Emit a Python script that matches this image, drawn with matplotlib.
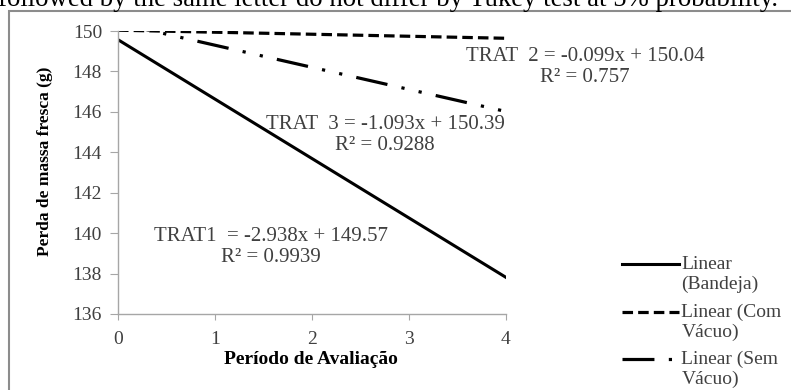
import numpy as np
import matplotlib.pyplot as plt
from matplotlib.patches import Rectangle

# trend line ends (period 0 and 4)
periodo = [0, 4]
bandeja = [149.57, 137.82]
com_vacuo = [150.04, 149.64]
sem_vacuo = [150.39, 146.02]

eq1 = 'TRAT1  = -2.938x + 149.57\nR² = 0.9939'
eq2 = 'TRAT  2 = -0.099x + 150.04\nR² = 0.757'
eq3 = 'TRAT  3 = -1.093x + 150.39\nR² = 0.9288'

plt.rcParams['font.family'] = ['Liberation Serif', 'DejaVu Serif']

fig = plt.figure(figsize=(7.91, 3.90), dpi=100)
W, H = 791.0, 390.0
ax = fig.add_axes([118 / W, 1 - 314 / H, (505.7 - 118) / W, (314 - 31) / H])

# outer chart frame (runs off the right and bottom edges)
fig.patches.append(Rectangle((9 / W, -0.1), 1.2, 1.1 - 11 / H,
                             transform=fig.transFigure, fill=False,
                             edgecolor='#8c8c8c', linewidth=1.5))

fig.text(778 / W, 1 - 6 / H,
         'followed by the same letter do not differ by Tukey test at 5% probability.',
         ha='right', va='baseline', fontsize=19.3, color='black')

ax.plot(periodo, bandeja, color='black', lw=2.2, label='Linear\n(Bandeja)')
ax.plot(periodo, com_vacuo, color='black', lw=2.3, linestyle=(0, (3.3, 1.6)),
        label='Linear (Com\nVácuo)')
ax.plot(periodo, sem_vacuo, color='black', lw=2.3,
        linestyle=(0, (10, 4.5, 1.0, 4.5, 1.0, 4.5)), label='Linear (Sem\nVácuo)')

ax.set_xlim(0, 4)
ax.set_ylim(136, 150)
ax.set_xticks([0, 1, 2, 3, 4])
ax.set_yticks(np.arange(136, 151, 2))

for s in ['top', 'right']:
    ax.spines[s].set_visible(False)
for s in ['left', 'bottom']:
    ax.spines[s].set_color('#a6a6a6')
    ax.spines[s].set_linewidth(1.0)
ax.tick_params(colors='#a6a6a6', labelcolor='#404040', labelsize=14,
               direction='out')
ax.tick_params(axis='y', length=5.5, pad=6)
ax.tick_params(axis='x', length=4, pad=8)

fig.text(311 / W, 1 - 360 / H, 'Período de Avaliação', fontsize=14,
         fontweight='bold', ha='center', va='center')
fig.text(45 / W, 1 - 161 / H, 'Perda de massa fresca (g)', fontsize=12.5,
         fontweight='bold', ha='center', va='center', rotation=90)

ax.text(1.578, 139.31, eq1, ha='center', va='center', fontsize=15, color='#404040',
        linespacing=1.12)
ax.text(4.82, 148.22, eq2, ha='center', va='center', fontsize=15, color='#404040',
        linespacing=1.12, clip_on=False)
ax.text(2.755, 144.855, eq3, ha='center', va='center', fontsize=15, color='#404040',
        linespacing=1.12)

leg = ax.legend(loc='upper left', bbox_to_anchor=(622 / W, 1 - 256 / H),
                bbox_transform=fig.transFigure, frameon=False, fontsize=14,
                handlelength=2.95, handletextpad=0.1, labelspacing=0.53,
                borderaxespad=0, borderpad=0)
for t in leg.get_texts():
    t.set_color('#404040')
    t.set_linespacing(1.2)
# Excel puts the symbol on the first text row
for h in leg.legend_handles:
    h.set_ydata(np.asarray(h.get_ydata()) + 7)

fig.savefig('out.png', dpi=100)
